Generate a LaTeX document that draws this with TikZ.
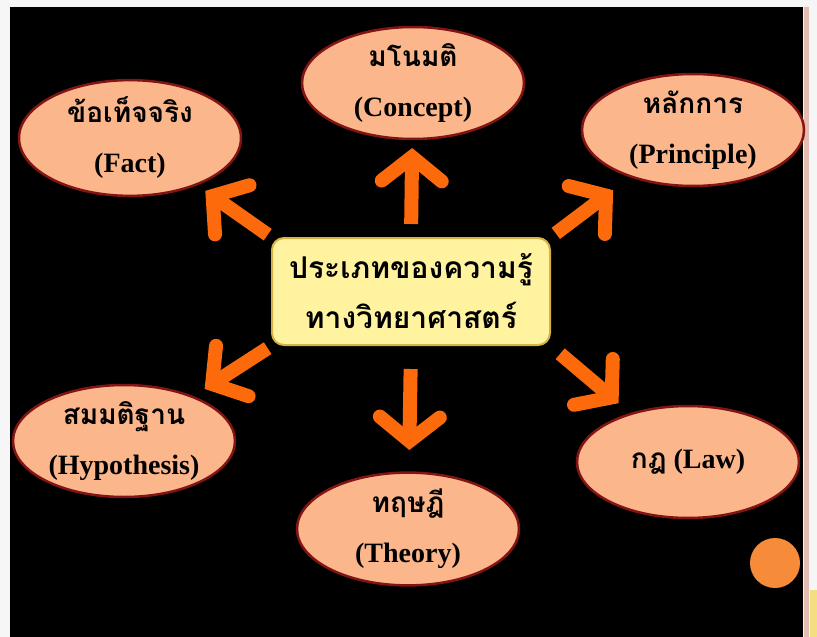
\documentclass[tikz,border=0pt]{standalone}
\usepackage{fontspec}
\setmainfont{Liberation Serif}
\newfontfamily\thaifont[Script=Thai]{Loma}
\usetikzlibrary{positioning, shapes.geometric, arrows.meta}
\tikzstyle{slide} = [x = 1pt, y = -1pt]
\definecolor{bubbleColor}{RGB}{251,182,140}
\definecolor{bubbleEdge}{RGB}{130,20,20}
\definecolor{topicColor}{RGB}{255,243,160}
\definecolor{topicEdge}{RGB}{214,178,70}
\definecolor{arrowColor}{RGB}{252,106,12}
\definecolor{dotColor}{RGB}{246,139,58}
\definecolor{edgeColor}{RGB}{226,190,178}
\definecolor{marginColor}{RGB}{246,246,246}
\definecolor{cornerColor}{RGB}{245,222,130}
\tikzstyle{bubbleStyle} = [ellipse, draw=bubbleEdge, fill=bubbleColor, line width=2.5pt, minimum width=222pt, minimum height=112pt, inner sep=0pt, align=center, font=\fontsize{28}{50}\selectfont\bfseries]
\tikzstyle{topicStyle} = [rectangle, rounded corners=12pt, draw=topicEdge, fill=topicColor, line width=2pt, minimum width=278pt, minimum height=107pt, align=center, font=\fontsize{30}{50}\selectfont\thaifont\bfseries]
\tikzstyle{bigArrow} = [draw=arrowColor, line width=14pt, -{Straight Barb[length=24pt, width=60pt, line cap=round, line join=miter]}]
\newcommand{\bubble}[4]{\node [bubbleStyle] (#1) at (#2) {{\thaifont #3}\\#4};}
\newcommand{\knowledgeArrow}[4]{\draw [bigArrow, shorten <= #3, shorten >= #4] (#1) -- (#2.center);}

\begin{document}
\begin{tikzpicture}[slide]
      \useasboundingbox (0,0) rectangle (817,637);
      \fill [marginColor] (0,0) rectangle (817,637);
      \fill [black] (10,7) rectangle (803,637);
      \fill [edgeColor] (804,7) rectangle (809,637);
      \fill [cornerColor] (810,590) rectangle (817,637);
      \fill [dotColor] (775,563) circle (25pt);

      \node [topicStyle] (topic) at (411,291.5) {ประเภทของความรู้\\ทางวิทยาศาสตร์};

      \bubble{fact}{130,138}{ข้อเท็จจริง}{(Fact)}
      \bubble{concept}{413,83}{มโนมติ}{(Concept)}
      \bubble{principle}{693,130}{หลักการ}{(Principle)}
      \bubble{hypothesis}{124,441}{สมมติฐาน}{(Hypothesis)}
      \bubble{theory}{408,529}{ทฤษฎี}{(Theory)}
      \node [bubbleStyle] (law) at (688,462) {{\thaifont กฎ} (Law)};

      \knowledgeArrow{topic.north west}{fact}{4pt}{92pt}
      \knowledgeArrow{topic.north}{concept}{13pt}{65pt}
      \knowledgeArrow{topic.north east}{principle}{6pt}{100pt}
      \knowledgeArrow{topic.south west}{hypothesis}{4pt}{96pt}
      \knowledgeArrow{topic.south}{theory}{23pt}{79pt}
      \knowledgeArrow{topic.south east}{law}{12pt}{91pt}
    \end{tikzpicture}
\end{document}
